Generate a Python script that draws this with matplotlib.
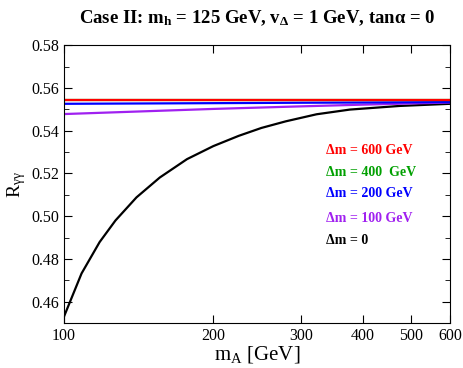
import matplotlib
matplotlib.use("Agg")
import matplotlib.pyplot as plt
from matplotlib.ticker import FixedLocator, NullLocator, MultipleLocator, FormatStrFormatter

plt.rcParams['font.family'] = ['Liberation Serif', 'DejaVu Serif']
plt.rcParams['mathtext.fontset'] = 'custom'
plt.rcParams['mathtext.rm'] = 'Liberation Serif'
plt.rcParams['mathtext.it'] = 'Liberation Serif:italic'
plt.rcParams['mathtext.bf'] = 'Liberation Serif:bold'

# black curve, dm = 0
m_a = [100, 108.5, 118, 127, 140, 156, 177, 200, 225, 250, 280, 323, 377, 475, 600]
r_dm0 = [0.4530, 0.4732, 0.4879, 0.4980, 0.5088, 0.5181, 0.5267, 0.5328,
         0.5376, 0.5413, 0.5444, 0.5477, 0.5499, 0.5516, 0.5526]

m_flat = [100, 200, 300, 400, 600]
r_dm100 = [0.5478, 0.5502, 0.5514, 0.5522, 0.5532]
r_dm200 = [0.5526, 0.5529, 0.5531, 0.5532, 0.5534]
r_dm400 = [0.5542, 0.5542, 0.5542, 0.5542, 0.5542]
r_dm600 = [0.5546, 0.5546, 0.5546, 0.5546, 0.5546]

labels = ["Δm = 600 GeV", "Δm = 400  GeV", "Δm = 200 GeV", "Δm = 100 GeV", "Δm = 0"]
colors = ["red", "#00a000", "blue", "#a020f0", "black"]

fig = plt.figure(figsize=(4.63, 3.68), dpi=100)
ax = fig.add_axes([0.1382, 0.1223, 0.8338, 0.7547])

ax.plot(m_a, r_dm0, color=colors[4], lw=1.6)
ax.plot(m_flat, r_dm100, color=colors[3], lw=1.6)
ax.plot(m_flat, r_dm200, color=colors[2], lw=1.6)
ax.plot(m_flat, r_dm400, color=colors[1], lw=1.6)
ax.plot(m_flat, r_dm600, color=colors[0], lw=1.6)

ax.set_xscale("log")
ax.set_xlim(100, 600)
ax.set_ylim(0.45, 0.58)
ax.xaxis.set_major_locator(FixedLocator([100, 200, 300, 400, 500, 600]))
ax.xaxis.set_minor_locator(NullLocator())
ax.set_xticklabels(["100", "200", "300", "400", "500", "600"])
ax.yaxis.set_major_locator(FixedLocator([0.46, 0.48, 0.50, 0.52, 0.54, 0.56, 0.58]))
ax.yaxis.set_minor_locator(MultipleLocator(0.01))
ax.yaxis.set_major_formatter(FormatStrFormatter("%.2f"))
ax.tick_params(which="both", direction="in", top=True, right=True, labelsize=11.5)
ax.tick_params(which="major", length=6)
ax.tick_params(which="minor", length=3.5)

ax.set_xlabel(r"m$_\mathrm{A}$ [GeV]", fontsize=15, labelpad=0)
ax.set_ylabel(r"R$_\mathrm{γγ}$", fontsize=14, labelpad=2)
ax.set_title(r"Case II: m$_\mathbf{h}$ = 125 GeV, v$_\mathbf{Δ}$ = 1 GeV, tanα = 0",
             fontsize=13.5, fontweight="bold", pad=16)

label_pos = [0.621, 0.542, 0.465, 0.375, 0.298]
for txt, c, yf in zip(labels, colors, label_pos):
    ax.text(0.678, yf, txt, color=c, fontsize=10, fontweight="bold",
            transform=ax.transAxes, va="center", ha="left")

fig.savefig("out.png", dpi=100)
